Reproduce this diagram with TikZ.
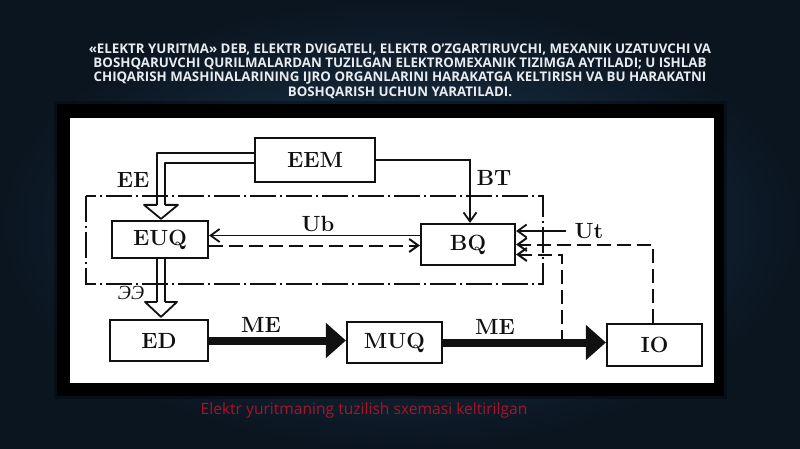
\documentclass[tikz,border=0pt]{standalone}
\usepackage{fontspec}
\newfontfamily\titlefont{Open Sans}
\newfontfamily\cyrfont{Liberation Serif}
\usetikzlibrary{arrows.meta,calc}
\definecolor{bgin}{HTML}{223B54}
\definecolor{bgout}{HTML}{0A1520}
\definecolor{titlecol}{HTML}{E8ECF0}
\definecolor{capred}{HTML}{A8142A}
\definecolor{ink}{HTML}{111111}
\begin{document}
\begin{tikzpicture}[x=1pt,y=-1pt,
  box/.style={draw=ink,line width=2.2pt,fill=white,inner sep=0pt,font=\fontsize{22}{26}\selectfont\bfseries,text=ink},
  lbl/.style={inner sep=0pt,font=\fontsize{22}{26}\selectfont\bfseries,text=ink},
  conn/.style={draw=ink,line width=1.8pt},
  dbl/.style={draw=ink,line width=1.8pt,line join=round},
  dsh/.style={draw=ink,line width=2pt,dash pattern=on 14pt off 6pt},
  dashdot/.style={draw=ink,line width=1.6pt,dash pattern=on 26pt off 4pt on 2pt off 4pt},
  stick/.style={-{Straight Barb[length=9pt,width=13pt]}},
  me/.style={draw=ink,line width=8pt,-{Triangle[length=20pt,width=34pt]}}]
\useasboundingbox (0,0) rectangle (800,449);
\shade[inner color=bgin,outer color=bgout] (0,0) rectangle (800,449);
% title
\node[font=\titlefont\bfseries\fontsize{13.3}{14.3}\selectfont,text=titlecol,align=center,inner sep=0pt] (title) at (400,71)
 {«ELEKTR YURITMA» DEB, ELEKTR DVIGATELI, ELEKTR O’ZGARTIRUVCHI, MEXANIK UZATUVCHI VA\\
  BOSHQARUVCHI QURILMALARDAN TUZILGAN ELEKTROMEXANIK TIZIMGA AYTILADI; U ISHLAB\\
  CHIQARISH MASHINALARINING IJRO ORGANLARINI HARAKATGA KELTIRISH VA BU HARAKATNI\\
  BOSHQARISH UCHUN YARATILADI.};
% panel
\fill[black,opacity=0.3] (54,101) rectangle (727,399);
\fill[black] (57,104) rectangle (724,396);
\fill[white] (70,118) rectangle (714,383);
% frame
\draw[dashdot] (86,196) rectangle (543,284);
% boxes
\node[box,minimum width=120pt,minimum height=44pt] (EEM) at (315,160) {EEM};
\node[box,minimum width=96pt,minimum height=37pt] (EUQ) at (160,239.5) {EUQ};
\node[box,minimum width=94pt,minimum height=41pt] (BQ) at (468,244.5) {BQ};
\node[box,minimum width=98pt,minimum height=41pt] (ED) at (159,340.5) {ED};
\node[box,minimum width=95pt,minimum height=41pt] (MUQ) at (394.5,342.5) {MUQ};
\node[box,minimum width=95pt,minimum height=42pt] (IO) at (654.5,345) {IO};
% labels
\node[lbl] (EE) at (133,180) {EE};
\node[lbl] (BT) at (494,178) {BT};
\node[lbl] (Ub) at (318,224) {Ub};
\node[lbl] (ME1) at (261,325) {ME};
\node[lbl] (ME2) at (495,327) {ME};
\node[lbl] (Ut) at (589,231) {Ut};
\node[inner sep=0pt,font=\cyrfont\itshape\fontsize{20}{22}\selectfont,text=ink] (EE2) at (131,293) {ЭЭ};
% hollow double arrow EEM -> EUQ
\coordinate (h1) at ($(EUQ.north)+(1,-15)$);
\draw[dbl] ([yshift=7pt]EEM.west) -| ($(h1)+(-4,0)$);
\draw[dbl] ([yshift=-3pt]EEM.west) -| ($(h1)+(4,0)$);
\draw[dbl] ($(h1)+(-4,0)$) -- ($(h1)+(-17,0)$) -- ($(h1)+(0,14)$) -- ($(h1)+(17,0)$) -- ($(h1)+(4,0)$);
% hollow double arrow EUQ -> ED
\coordinate (h2) at ($(ED.north)+(2,-17)$);
\coordinate (s2) at (h2 |- EUQ.south);
\draw[dbl] ($(s2)+(-4,0)$) -- ($(h2)+(-4,0)$);
\draw[dbl] ($(s2)+(4,0)$) -- ($(h2)+(4,0)$);
\draw[dbl] ($(h2)+(-4,0)$) -- ($(h2)+(-16,0)$) -- ($(h2)+(0,15)$) -- ($(h2)+(16,0)$) -- ($(h2)+(4,0)$);
% EEM -> BQ
\draw[conn,stick] (EEM.east) -| ([xshift=2pt]BQ.north);
% Ub
\coordinate (ub1) at ([yshift=9pt]BQ.west);
\draw[conn,stick] (ub1) -- (ub1 -| EUQ.east);
\coordinate (ub2) at ([yshift=-6pt]EUQ.east);
\draw[dsh,stick] (ub2) -- (ub2 -| BQ.west);
% Ut
\coordinate (ut1) at ([xshift=-8pt]Ut.west);
\draw[conn,stick] (ut1) -- (ut1 -| BQ.east);
% feedback from IO
\draw[dsh,stick] ([xshift=-2pt]IO.north) |- (BQ.east);
% feedback from ME line
\coordinate (tap) at ($(MUQ.east)!0.73!(IO.west)$);
\coordinate (bq3) at ([yshift=-10pt]BQ.east);
\draw[dsh,stick] (tap) |- (bq3);
% ME
\draw[me] (ED.east) -- (ED.east -| MUQ.west);
\draw[me] (MUQ.east) -- (MUQ.east -| IO.west);
% caption
\node[font=\titlefont\fontsize{15.6}{18}\selectfont,text=capred,inner sep=0pt] (cap) at (364,410) {Elektr yuritmaning tuzilish sxemasi keltirilgan};
\end{tikzpicture}
\end{document}
